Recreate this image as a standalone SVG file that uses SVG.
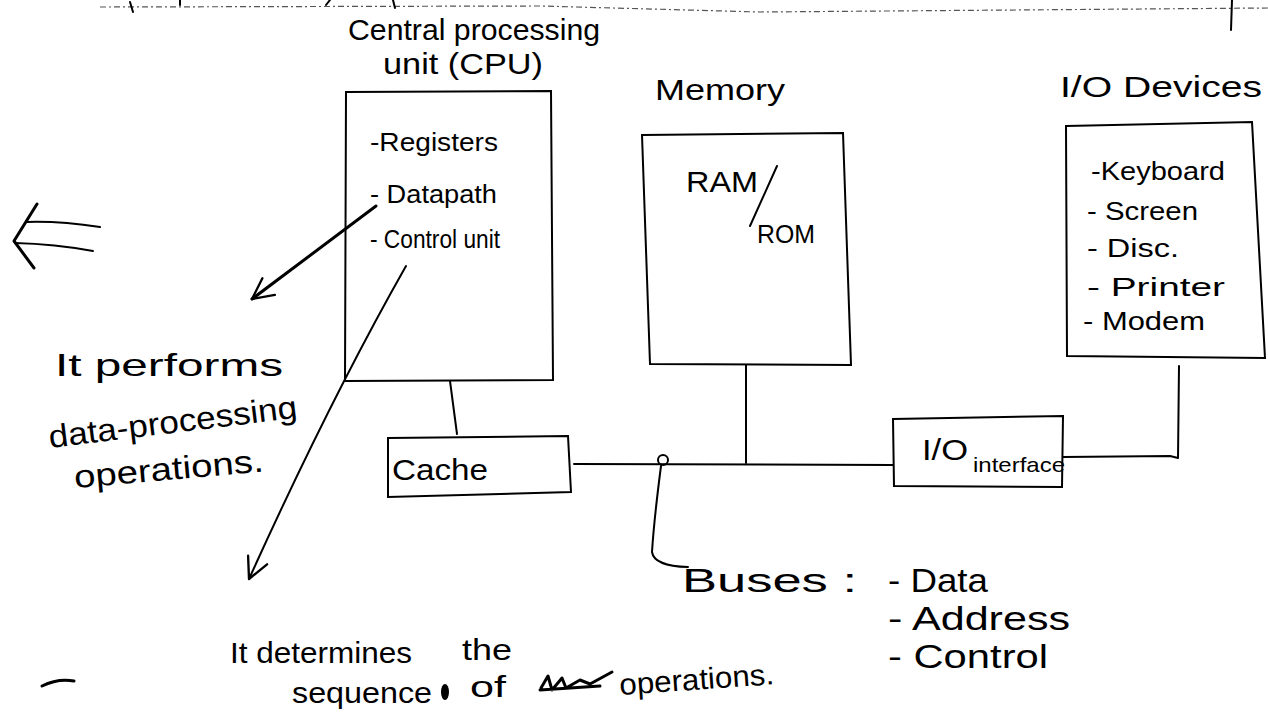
<svg xmlns="http://www.w3.org/2000/svg" width="1268" height="717" viewBox="0 0 1268 717">
<style>
text{font-family:"Liberation Sans",Arial,sans-serif;fill:#000}
.t{font-size:30px}
.s{font-size:25px}
.ln{fill:none;stroke:#000;stroke-width:2;stroke-linecap:round;stroke-linejoin:round}
.thk{fill:none;stroke:#000;stroke-width:3;stroke-linecap:round;stroke-linejoin:round}
.box{fill:none;stroke:#000;stroke-width:2}
.faint{fill:none;stroke:#555;stroke-width:1.2;stroke-dasharray:6 3 2 3}
</style>
<defs>
<marker id="arr" viewBox="0 0 20 20" refX="18" refY="10" markerWidth="26" markerHeight="26" orient="auto" markerUnits="userSpaceOnUse">
<path d="M2 2 L18 10 L2 18" fill="none" stroke="#000" stroke-width="1.8" stroke-linecap="round" stroke-linejoin="round"/>
</marker>
</defs>
<rect width="1268" height="717" fill="#fff"/>
<g id="top-fragments">
<path class="faint" d="M100 7 L540 6 L760 12 L1268 8"/>
<path class="ln" d="M130 2 L133 12"/>
<path class="ln" d="M180 0 L180 5"/>
<path class="ln" d="M330 0 L326 5"/>
<path class="ln" d="M393 0 L395 8"/>
<path class="ln" d="M1232 0 L1231 30"/>
</g>
<g id="left-arrow">
<path class="ln" d="M27 222 Q60 221 100 227"/>
<path class="ln" d="M15 243 Q55 244 93 251"/>
<path class="thk" d="M37 204 L14 241 L34 268"/>
</g>
<g id="cpu">
<text class="t" x="348" y="40" textLength="252" lengthAdjust="spacingAndGlyphs">Central processing</text>
<text class="t" x="383" y="74" textLength="160" lengthAdjust="spacingAndGlyphs">unit (CPU)</text>
<path class="box" d="M346 92 L551 91 L553 380 L345 381 Z"/>
<text class="s" x="370" y="151" textLength="128" lengthAdjust="spacingAndGlyphs">-Registers</text>
<text class="s" x="370" y="203" textLength="127" lengthAdjust="spacingAndGlyphs">- Datapath</text>
<text class="s" x="370" y="248" textLength="130" lengthAdjust="spacingAndGlyphs">- Control unit</text>
</g>
<g id="cache">
<path class="box" d="M388 438 L568 436 L571 492 L388 497 Z"/>
<text class="t" x="392" y="480" textLength="96" lengthAdjust="spacingAndGlyphs">Cache</text>
</g>
<g id="memory">
<text class="t" x="655" y="100" textLength="130" lengthAdjust="spacingAndGlyphs">Memory</text>
<path class="box" d="M642 135 L843 133 L851 365 L650 364 Z"/>
<text class="t" x="686" y="192" textLength="72" lengthAdjust="spacingAndGlyphs">RAM</text>
<path class="ln" d="M777 166 L750 226"/>
<text class="s" x="757" y="243" textLength="58" lengthAdjust="spacingAndGlyphs">ROM</text>
</g>
<g id="io-devices">
<text class="t" x="1060" y="97" textLength="202" lengthAdjust="spacingAndGlyphs">I/O Devices</text>
<path class="box" d="M1066 126 L1252 122 L1265 358 L1067 356 Z"/>
<text class="s" x="1091" y="180" textLength="134" lengthAdjust="spacingAndGlyphs">-Keyboard</text>
<text class="s" x="1087" y="220" textLength="111" lengthAdjust="spacingAndGlyphs">- Screen</text>
<text class="s" x="1087" y="257" textLength="92" lengthAdjust="spacingAndGlyphs">- Disc.</text>
<text class="s" x="1087" y="296" textLength="138" lengthAdjust="spacingAndGlyphs">- Printer</text>
<text class="s" x="1083" y="330" textLength="122" lengthAdjust="spacingAndGlyphs">- Modem</text>
</g>
<g id="io-interface">
<path class="box" d="M893 419 L1063 416 L1062 487 L894 486 Z"/>
<text class="t" x="922" y="460" textLength="46" lengthAdjust="spacingAndGlyphs">I/O</text>
<text x="973" y="472" font-size="21" textLength="92" lengthAdjust="spacingAndGlyphs">interface</text>
</g>
<g id="connectors">
<path class="ln" d="M450 381 L457 434"/>
<path class="ln" d="M574 464 L893 465"/>
<circle cx="663" cy="460" r="5" fill="none" stroke="#000" stroke-width="2"/>
<path class="ln" d="M746 365 L746 463"/>
<path class="ln" d="M1063 457 L1170 456 L1178 458 L1179 366"/>
<path class="ln" d="M661 466 Q654 520 652 552 Q654 566 688 567"/>
<path class="thk" d="M376 206 L252 299" marker-end="url(#arr)"/>
<path class="ln" d="M406 266 Q330 400 249 579" marker-end="url(#arr)"/>
</g>
<g id="annotations">
<text font-size="32" x="55" y="376" textLength="228" lengthAdjust="spacingAndGlyphs">It performs</text>
<text font-size="32" x="50" y="448" textLength="250" lengthAdjust="spacingAndGlyphs" transform="rotate(-7 50 448)">data-processing</text>
<text font-size="32" x="75" y="488" textLength="190" lengthAdjust="spacingAndGlyphs" transform="rotate(-5 75 488)">operations.</text>
<text font-size="34" x="682" y="592" textLength="175" lengthAdjust="spacingAndGlyphs">Buses :</text>
<text font-size="34" x="888" y="592" textLength="100" lengthAdjust="spacingAndGlyphs">- Data</text>
<text font-size="34" x="888" y="630" textLength="182" lengthAdjust="spacingAndGlyphs">- Address</text>
<text font-size="34" x="888" y="668" textLength="160" lengthAdjust="spacingAndGlyphs">- Control</text>
<text font-size="30" x="230" y="663" textLength="182" lengthAdjust="spacingAndGlyphs">It determines</text>
<text font-size="30" x="462" y="660" textLength="50" lengthAdjust="spacingAndGlyphs">the</text>
<text font-size="30" x="292" y="703" textLength="140" lengthAdjust="spacingAndGlyphs">sequence</text>
<ellipse cx="445" cy="692" rx="4" ry="8" fill="#000"/>
<text font-size="30" x="470" y="697" textLength="36" lengthAdjust="spacingAndGlyphs">of</text>
<path class="thk" d="M541 688 L548 676 L552 690 L562 678 L566 688 L580 680 L590 684 L612 672 M540 690 L600 686"/>
<text font-size="30" x="620" y="695" textLength="155" lengthAdjust="spacingAndGlyphs" transform="rotate(-4 620 695)">operations.</text>
<path class="thk" d="M42 686 Q58 678 74 681"/>
</g>
</svg>
